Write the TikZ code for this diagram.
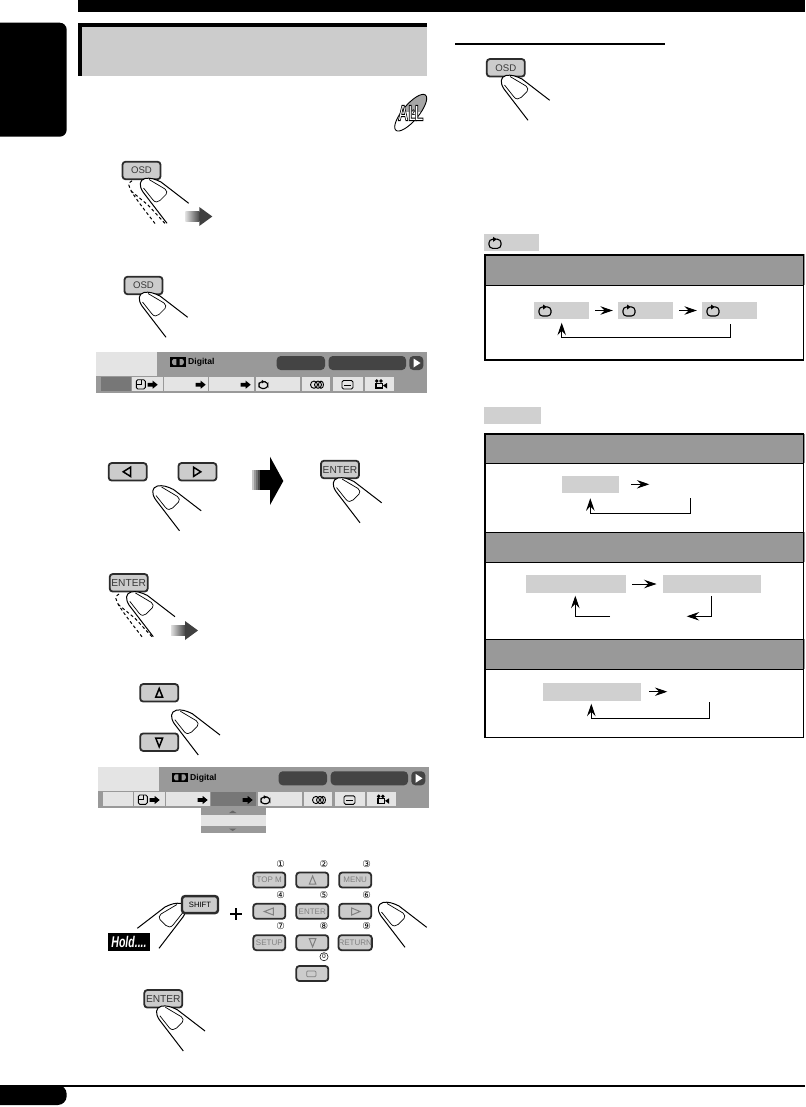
\documentclass[tikz,border=0pt]{standalone}
\usepackage{fontspec}
\setmainfont{Liberation Sans}
\newfontfamily\symfont{DejaVu Sans}
\usetikzlibrary{arrows.meta}
\definecolor{btnfill}{HTML}{CCCCCC}
\definecolor{btnline}{HTML}{2C2C2C}
\definecolor{barfill}{HTML}{999999}
\definecolor{cellfill}{HTML}{D0D0D0}
\definecolor{lightfill}{HTML}{E4E4E4}
\definecolor{darkcell}{HTML}{777777}
\definecolor{pillfill}{HTML}{444444}
\tikzset{
  btn/.style={draw=btnline,fill=btnfill,line width=1.8pt,rounded corners=3pt,inner sep=0pt,
     minimum width=38pt,minimum height=17.5pt,font=\fontsize{9.6}{9.6}\selectfont,text=black!78},
  keybtn/.style={btn,minimum width=32pt,minimum height=15pt,font=\fontsize{8}{8}\selectfont,text=black!50},
  fingerline/.style={draw=black,line width=1pt,line join=round},
  flow/.style={draw=black,line width=0.9pt,-{Stealth[length=12.5pt,width=8.5pt,inset=4.5pt]}},
  cell/.style={fill=cellfill,inner sep=0pt},
  digit/.style={font=\symfont\fontsize{9.5}{9.5}\selectfont,inner sep=0pt},
  tabletitle/.style={fill=barfill},
  tableframe/.style={draw=black,line width=1.8pt},
  divider/.style={draw=black,line width=0.9pt},
  tri/.style={draw=black,line width=1.5pt,line join=miter},
  keytri/.style={draw=black!50,line width=1pt,line join=miter},
}
\newcommand{\fingerat}[3][]{%
 \begin{scope}[shift={(#2,#3)},#1]
  \path[fill=white] (42,61.3) -- (18,30) .. controls (14,24) and (14,18) .. (20,16.5) .. controls (25,15.5) and (30,17) .. (36,20) -- (63.7,41.3) -- cycle;
  \draw[fingerline] (42,61.3) -- (18,30) .. controls (14,24) and (14,18) .. (20,16.5) .. controls (25,15.5) and (30,17) .. (36,20) -- (63.7,41.3);
  \draw[fingerline,line width=0.7pt] (18.5,26) -- (28,38) .. controls (30,40.5) and (33,40.5) .. (35,38.5) -- (41,32.5) .. controls (42.5,31) and (42,28.5) .. (40,27) -- (24,17.5);
 \end{scope}}
\newcommand{\dashedfinger}[2]{%
 \begin{scope}[shift={(#1,#2)}]
  \draw[line width=1pt,dash pattern=on 3pt off 2.5pt] (27,43.5) .. controls (12,24) and (-1,8) .. (1,3) -- (5,0);
  \draw[line width=1pt,dash pattern=on 3pt off 2.5pt] (3,11) -- (20,25);
  \draw[line width=1pt,dash pattern=on 3pt off 2.5pt] (20,25) -- (37,43.5);
 \end{scope}}
\newcommand{\fadearrow}[2]{%
 \begin{scope}[shift={(#1,#2)}]
  \shade[left color=black!12,right color=black!72] (0,4.7) rectangle (14,14.7);
  \fill[black!75] (14,0) -- (27,9.5) -- (14,19) -- cycle;
 \end{scope}}
\newcommand{\repicon}[3][1]{%
 \begin{scope}[shift={(#2,#3)},scale=#1]
  \draw[line width=1.1pt,rounded corners=3.5pt] (-1,-4) -- (-6,-4) -- (-6,5) -- (6,5) -- (6,-4) -- (3,-4);
  \fill (-2,-6.5) -- (1.8,-4) -- (-2,-1.5) -- cycle;
 \end{scope}}
\newcommand{\blockarrow}[2]{\fill (#1-5,#2-1.8) -- (#1,#2-1.8) -- (#1,#2-4) -- (#1+5,#2) -- (#1,#2+4) -- (#1,#2+1.8) -- (#1-5,#2+1.8) -- cycle;}
\newcommand{\outon}{\special{pdf:code 2 Tr 0.9 w 0 0 0 RG}}
\newcommand{\outoff}{\special{pdf:code 0 Tr 0.4 w}}
\newcommand{\osdbar}[4]{%
 \begin{scope}[shift={(#1,#2)}]
  \fill[barfill] (96,352) rectangle (426.7,392.7);
  \fill[lightfill] (96,352) rectangle (157,376);
  \fill[pillfill,rounded corners=4pt] (276.7,356) rectangle (325,370);
  \fill[pillfill,rounded corners=4pt] (328.7,356) rectangle (406,370);
  \fill[pillfill,rounded corners=4pt] (409.3,356) rectangle (423.3,370);
  \fill[white] (413.5,358.5) -- (420.5,363) -- (413.5,367.5) -- cycle;
  \fill[black] (170,357.3) rectangle (177.6,366.7);
  \fill[black] (178.4,357.3) rectangle (186,366.7);
  \fill[barfill] (173.5,359) -- (176.3,359) -- (176.3,365) -- (173.5,365) .. controls (171.4,364) and (171.4,360) .. (173.5,359);
  \fill[barfill] (182.1,359) -- (179.7,359) -- (179.7,365) -- (182.1,365) .. controls (184.5,364) and (184.5,360) .. (182.1,359);
  \node[inner sep=0pt,anchor=west,font=\bfseries\fontsize{8.6}{8.6}\selectfont] (#4) at (188,362.5) {Digital};
  \fill[#3] (101,376.7) rectangle (131,390.7);
  \fill[lightfill] (132,376.7) rectangle (162.7,390.7);
  \fill[lightfill] (164,376.7) rectangle (208,390.7);
  \fill[lightfill] (209.3,376.7) rectangle (254,390.7);
  \fill[lightfill] (255.7,376.7) rectangle (300,390.7);
  \fill[lightfill] (302.3,376.7) rectangle (330,390.7);
  \fill[lightfill] (332.7,376.7) rectangle (362.7,390.7);
  \fill[lightfill] (365,376.7) rectangle (394,390.7);
  \draw[line width=0.9pt,rounded corners=1.5pt] (136.3,379.7) rectangle (145.3,389);
  \draw[line width=0.7pt] (141,380) -- (141,384.5) -- (137,384.5);
  \blockarrow{152.7}{384.7}
  \blockarrow{200.7}{384.7}
  \blockarrow{245.7}{384.7}
  \repicon[0.75]{263.3}{384.7}
  \draw[line width=0.9pt] (314,384.7) ellipse (3.5 and 3.6);
  \draw[line width=0.9pt] (318,384.7) ellipse (3.5 and 3.6);
  \draw[line width=0.9pt] (321,384.7) ellipse (2.5 and 3.6);
  \draw[line width=0.9pt,rounded corners=1.5pt] (342,380.5) rectangle (353,389);
  \draw[line width=0.8pt] (344.3,385) -- (350.7,385);
  \fill (374.5,382.7) rectangle (383,389);
  \fill (383,385.5) -- (387,383) -- (387,388.5) -- cycle;
  \fill (376.7,381) circle (1.9);
  \fill (380.9,381) circle (1.9);
  \fill[lightfill] (376.5,384) rectangle (381.5,387.4);
 \end{scope}}
\begin{document}
\begin{tikzpicture}[x=1pt,y=-1pt]
\useasboundingbox (0,0) rectangle (805,1107);
% page furniture
\fill (78,0) rectangle (805,12);
\fill[rounded corners=7pt] (-10,22.7) rectangle (66.7,136.7);
\fill (0,1085) rectangle (805,1087);
\fill[rounded corners=9pt] (-12,1085) rectangle (66.7,1105);
% title box
\fill (78,23) rectangle (427,76);
\fill[btnfill] (82,27) rectangle (427,76);
% ALL logo
\begin{scope}
 \clip (380,85) rectangle (430,112);
 \fill[black!35,rotate around={50:(410.7,112.7)}] (410.7,112.7) ellipse (23 and 8);
\end{scope}
\draw[line width=0.9pt,rotate around={50:(410.7,112.7)}] (410.7,112.7) ellipse (23 and 8);
\node[inner sep=0pt,font=\bfseries\fontsize{22}{22}\selectfont,text=white] (alllogo) at (410.7,113) {\scalebox{0.65}[1]{\outon AL\outoff\kern-0.34em{\color{black}\fontsize{8}{8}\selectfont\raisebox{5pt}{2}}\kern-0.02em\outon L\outoff}};
% step 1
\dashedfinger{128}{180}
\node[btn] (osda) at (141.5,170.5) {OSD};
\fingerat{125}{162}
\fadearrow{185.3}{207}
% step 2
\node[btn] (osdb) at (143.5,285.5) {OSD};
\fingerat{124}{276}
\osdbar{0}{0}{darkcell}{digitala}
% step 3
\node[btn] (lefta) at (127.7,471.8) {};
\node[btn] (righta) at (197.5,471.8) {};
\draw[tri] (130.5,467.2) -- (123.2,471.8) -- (130.5,476.4) -- cycle;
\draw[tri] (193.5,467.2) -- (200.8,471.8) -- (193.5,476.4) -- cycle;
\fingerat{137.5}{469.5}
\foreach \i/\c in {0/22,1/40,2/55,3/72,4/100,5/100,6/100,7/100,8/100}{\fill[black!\c] (252+\i*2,470) rectangle ++(2,20);}
\fill (270,456.7) -- (283.3,481) -- (270,505) -- cycle;
\node[btn] (entera) at (340,469.5) {\fontsize{10.2}{10.2}\selectfont ENTER};
\fingerat{318}{461.5}
% step 4
\dashedfinger{115}{593.3}
\node[btn] (enterb) at (128.7,582.8) {\fontsize{10.2}{10.2}\selectfont ENTER};
\fingerat{111.3}{575.4}
\fadearrow{171}{621}
% step 5
\node[btn] (upa) at (159.2,692.8) {};
\node[btn] (downa) at (159.2,742.2) {};
\draw[tri] (159.2,688.5) -- (162.6,697) -- (155.8,697) -- cycle;
\draw[tri] (159.2,746.8) -- (162.6,738.2) -- (155.8,738.2) -- cycle;
\fingerat{156.3}{693.7}
\osdbar{2}{415.3}{lightfill}{digitalb}
\fill[darkcell] (211,792) rectangle (255.7,806);
\blockarrow{247.7}{800}
\fill[barfill] (201,808) rectangle (265.7,833.3);
\fill[lightfill] (201,815) rectangle (265.7,826);
\fill[black!60] (229,813) -- (232.7,810.5) -- (236.4,813) -- cycle;
\fill[black!60] (229,828.5) -- (232.7,831) -- (236.4,828.5) -- cycle;
% step 6
\fingerat[xscale=-1]{201}{887}
\node[btn,line width=2.4pt,font=\fontsize{7.7}{7.7}\selectfont,text=black,minimum width=36pt,minimum height=17pt] (shiftkey) at (200,904.6) {SHIFT};
\fill (108,932.7) rectangle (150,950.7);
\node[inner sep=0pt,text=white,font=\bfseries\itshape\fontsize{15.5}{15.5}\selectfont] (hold) at (129,941.5) {\scalebox{0.68}[1]{Hold....}};
\draw[line width=1.5pt] (230,914) -- (242,914) (236,908) -- (236,920);
\node[keybtn] (ka) at (269.3,880) {TOP M};
\node[keybtn] (kb) at (312.3,880) {};
\node[keybtn] (kc) at (355.2,880) {MENU};
\node[keybtn] (kd) at (269.3,911.3) {};
\node[keybtn] (ke) at (312.3,911.3) {ENTER};
\node[keybtn] (kf) at (355.2,911.3) {};
\node[keybtn] (kg) at (269.3,942.7) {SETUP};
\node[keybtn] (kh) at (312.3,942.7) {};
\node[keybtn] (ki) at (355.2,942.7) {RETURN};
\node[keybtn] (kj) at (312.3,973.5) {};
\draw[keytri] (312.6,876) -- (315.9,884.2) -- (309.3,884.2) -- cycle;
\draw[keytri] (312.6,946.8) -- (315.9,938.6) -- (309.3,938.6) -- cycle;
\draw[keytri] (273.3,908) -- (264.3,911.5) -- (273.3,915) -- cycle;
\draw[keytri] (351.7,908) -- (360,911.5) -- (351.7,915) -- cycle;
\draw[draw=black!50,line width=0.7pt,rounded corners=1pt] (306.7,971) rectangle (316,976.7);
\node[digit] (da) at (280.7,864) {①};
\node[digit] (db) at (324,864) {②};
\node[digit] (dc) at (366.7,864) {③};
\node[digit] (dd) at (280.7,895) {④};
\node[digit] (de) at (324,895) {⑤};
\node[digit] (df) at (366.7,895) {⑥};
\node[digit] (dg) at (280.7,926) {⑦};
\node[digit] (dh) at (324,926) {⑧};
\node[digit] (di) at (366.7,926) {⑨};
\node[draw,circle,line width=0.5pt,minimum size=8.2pt,inner sep=0pt,font=\symfont\fontsize{6}{6}\selectfont] (dj) at (324,956.7) {0};
\fingerat{363}{886}
% step 7
\node[btn] (enterc) at (163.3,998.8) {\fontsize{10.2}{10.2}\selectfont ENTER};
\fingerat{141.3}{989.7}
% right column
\draw[line width=2pt] (455,44) -- (665,44);
\node[btn] (osdc) at (505.8,67.8) {OSD};
\fingerat{486}{59}
\fill[cellfill] (484,234) rectangle (539,251);
\repicon{495}{243.3}
% first table
\fill[tabletitle] (484,254) rectangle (805,285);
\draw[tableframe] (485,255) rectangle (803.5,360);
\draw[divider] (485,285.5) -- (803.5,285.5);
\node[cell,minimum width=55pt,minimum height=17pt] (ca) at (561.5,310.5) {};
\node[cell,minimum width=55pt,minimum height=17pt] (cb) at (645.5,310.5) {};
\node[cell,minimum width=55pt,minimum height=17pt] (cc) at (729.5,310.5) {};
\repicon{545}{311}
\repicon{629}{311}
\repicon{713}{311}
\draw[flow,shorten <=6pt,shorten >=5pt] (ca) -- (cb);
\draw[flow,shorten <=6pt,shorten >=5pt] (cb) -- (cc);
\coordinate (ra) at (730,324);
\coordinate (rb) at (561.7,322.7);
\draw[flow] (ra) -- ++(0,13.3) -| (rb);
% second label
\fill[cellfill] (484,407) rectangle (541,424);
% second table
\fill[tabletitle] (484,434) rectangle (805,463.3);
\fill[tabletitle] (484,532.3) rectangle (805,562.3);
\fill[tabletitle] (484,639.3) rectangle (805,669.3);
\draw[tableframe] (485,434.3) rectangle (803.5,737.5);
\draw[divider] (485,463.3) -- (803.5,463.3);
\draw[divider] (485,532.3) -- (803.5,532.3);
\draw[divider] (485,562.3) -- (803.5,562.3);
\draw[divider] (485,639.3) -- (803.5,639.3);
\draw[divider] (485,669.3) -- (803.5,669.3);
% section 1
\node[cell,minimum width=57pt,minimum height=17pt] (sa) at (590.5,484.5) {};
\coordinate (sae) at (649.3,484.3);
\draw[flow,shorten <=12pt] (sa.east |- sae) -- (sae);
\coordinate (sra) at (690.3,498);
\coordinate (srb) at (590.3,498.3);
\draw[flow] (sra) -- ++(0,15.3) -| (srb);
% section 2
\node[cell,minimum width=100pt,minimum height=18pt] (ta) at (576,584) {};
\node[cell,minimum width=98pt,minimum height=18pt] (tb) at (712,584) {};
\draw[flow,shorten <=6pt,shorten >=6.3pt] (ta) -- (tb);
\coordinate (tla) at (610,616.3);
\coordinate (tlb) at (575.3,595.7);
\draw[flow] (tla) -| (tlb);
\coordinate (tra) at (711.3,596);
\coordinate (trb) at (686.7,616.3);
\draw[flow] (tra) |- (trb);
% section 3
\node[cell,minimum width=97.7pt,minimum height=18pt] (ua) at (592.2,692) {};
\coordinate (uae) at (667.3,691.7);
\draw[flow,shorten <=8pt] (ua.east |- uae) -- (uae);
\coordinate (ura) at (709.3,702.3);
\coordinate (urb) at (591.3,703.7);
\draw[flow] (ura) -- ++(0,16) -| (urb);
\end{tikzpicture}
\end{document}
